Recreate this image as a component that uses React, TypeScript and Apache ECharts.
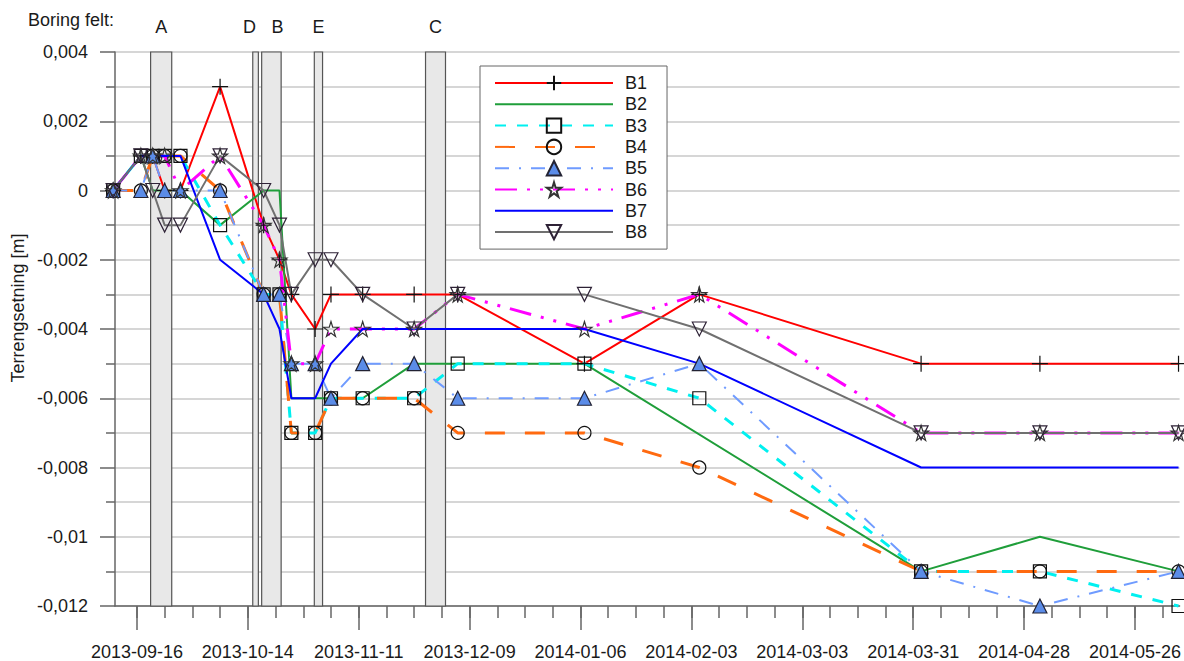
import React, { useEffect, useRef } from "react";
import * as echarts from "echarts";

const DAY = 86400000;
const utc = (s: string): number => {
  const [d, t] = s.split("T");
  const [y, m, dd] = d.split("-").map(Number);
  let h = 0;
  let mi = 0;
  if (t) {
    const p = t.split(":").map(Number);
    h = p[0];
    mi = p[1] || 0;
  }
  return Date.UTC(y, m - 1, dd, h, mi);
};

// measurement dates
const dates = [
  "2013-09-10", "2013-09-17", "2013-09-20", "2013-09-23", "2013-09-27",
  "2013-10-07", "2013-10-18", "2013-10-22", "2013-10-25", "2013-10-31",
  "2013-11-04", "2013-11-12", "2013-11-25", "2013-12-06", "2014-01-07",
  "2014-02-05", "2014-04-02", "2014-05-02", "2014-06-06",
];

// settlement values [m]
const B1 = [0, 0.001, 0.001, 0, 0, 0.003, -0.001, -0.002, -0.003, -0.004, -0.003, -0.003, -0.003, -0.003, -0.005, -0.003, -0.005, -0.005, -0.005];
const B2 = [0, 0.001, 0, 0, 0, -0.001, 0, 0, -0.006, -0.006, -0.006, -0.006, -0.005, -0.005, -0.005, null, -0.011, -0.010, -0.011];
const B3 = [0, 0.001, 0.001, 0.001, 0.001, -0.001, -0.003, -0.003, -0.007, -0.007, -0.006, -0.006, -0.006, -0.005, -0.005, -0.006, -0.011, -0.011, -0.012];
const B4 = [0, 0, 0.001, 0.001, 0.001, 0, -0.003, -0.003, -0.007, -0.007, -0.006, -0.006, -0.006, -0.007, -0.007, -0.008, -0.011, -0.011, -0.011];
const B5 = [0, 0, 0.001, 0, 0, 0, -0.003, -0.003, -0.005, -0.005, -0.006, -0.005, -0.005, -0.006, -0.006, -0.005, -0.011, -0.012, -0.011];
const B6 = [0, 0.001, 0.001, 0.001, 0, 0.001, -0.001, -0.002, -0.005, -0.005, -0.004, -0.004, -0.004, -0.003, -0.004, -0.003, -0.007, -0.007, -0.007];
const B7 = [0, 0.001, 0.001, 0.001, 0.001, -0.002, -0.003, -0.004, -0.006, -0.006, -0.005, -0.004, -0.004, -0.004, -0.004, -0.005, -0.008, -0.008, -0.008];
const B8 = [0, 0.001, 0, -0.001, -0.001, 0.001, 0, -0.001, -0.003, -0.002, -0.002, -0.003, -0.004, -0.003, -0.003, -0.004, -0.007, -0.007, -0.007];

const seriesNames = ["B1", "B2", "B3", "B4", "B5", "B6", "B7", "B8"];
const seriesValues = [B1, B2, B3, B4, B5, B6, B7, B8];

// drilling periods ("Boring felt")
const bandNames = ["A", "D", "B", "E", "C"];
const bandStarts = ["2013-09-19T11:00", "2013-10-15T06:00", "2013-10-17T12:00", "2013-10-30T19:00", "2013-11-27T21:00"];
const bandEnds = ["2013-09-24T19:00", "2013-10-16T16:00", "2013-10-22T10:00", "2013-11-01T21:00", "2013-12-02T22:00"];
const bandLabelShift = [0, -6, 6, 0, 0];

// x tick labels (every 4 weeks)
const tickLabels = [
  "2013-09-16", "2013-10-14", "2013-11-11", "2013-12-09", "2014-01-06",
  "2014-02-03", "2014-03-03", "2014-03-31", "2014-04-28", "2014-05-26",
];

const FONT = "'Liberation Sans', Arial, sans-serif";
const TXT = "#1a1a1a";
const FS = 18;

const STAR = "path://M50,0 L61,35 L98,35 L68,57 L79,91 L50,70 L21,91 L32,57 L2,35 L39,35 Z";
const CROSS = "path://M10,0 L10,20 M0,10 L20,10";
const DOWN = "path://M0,0 L20,0 L10,17 Z";

const styles: any[] = [
  { color: "#ff0000", width: 2, type: "solid", symbol: CROSS, size: 16, fill: "rgba(0,0,0,0)", border: "#111" },
  { color: "#1f9e3a", width: 2, type: "solid", symbol: "none", size: 0, fill: "none", border: "none" },
  { color: "#00f0f0", width: 3, type: [11, 11], symbol: "rect", size: 13, fill: "rgba(0,0,0,0)", border: "#111" },
  { color: "#ff6a10", width: 3, type: [20, 20], symbol: "circle", size: 13, fill: "rgba(0,0,0,0)", border: "#111" },
  { color: "#6f9bff", width: 2, type: [14, 10, 2, 10], symbol: "triangle", size: 14, fill: "#5b8ce8", border: "#223" },
  { color: "#ff00ff", width: 3, type: [22, 10, 3, 10, 3, 10], symbol: STAR, size: 15, fill: "rgba(0,0,0,0)", border: "#333" },
  { color: "#0000ff", width: 2, type: "solid", symbol: "none", size: 0, fill: "none", border: "none" },
  { color: "#707070", width: 2, type: "solid", symbol: DOWN, size: 14, fill: "rgba(0,0,0,0)", border: "#2e2236" },
];

const X0 = utc("2013-09-16");
const PXDAY = 3.977;
const XMIN = X0 - (22 / PXDAY) * DAY;
const XMAX = X0 + ((1184 - 137) / PXDAY) * DAY;

const fmtDate = (v: number) => {
  const d = new Date(Math.round(v));
  const p = (n: number) => (n < 10 ? "0" + n : "" + n);
  return `${d.getUTCFullYear()}-${p(d.getUTCMonth() + 1)}-${p(d.getUTCDate())}`;
};

export default function App() {
  const ref = useRef<HTMLDivElement>(null);
  useEffect(() => {
    if (!ref.current) return;
    const chart = echarts.init(ref.current, undefined, { renderer: "svg" });

    const majorTicks = tickLabels.map(utc);
    const weekTicks: number[] = [];
    for (let t = majorTicks[0]; t <= XMAX; t += 7 * DAY) weekTicks.push(t);

    const axisLineStyle = { color: "#666", width: 1.5 };
    const gridLine = { color: "#c8c8c8", width: 1.5 };

    const lineSeries = seriesNames.map((name, i) => {
      const s = styles[i];
      return {
        name,
        type: "line",
        z: 3,
        clip: false,
        connectNulls: true,
        showSymbol: s.symbol !== "none",
        symbol: s.symbol,
        symbolSize: s.size,
        data: dates.map((d, k) => [utc(d), seriesValues[i][k]]),
        lineStyle: { color: s.color, width: s.width, type: s.type },
        itemStyle: { color: s.fill, borderColor: s.border, borderWidth: 1.2 },
        emphasis: { disabled: true },
      };
    });

    const bandSeries = {
      name: "bands",
      type: "line",
      z: 1,
      data: [],
      markArea: {
        silent: true,
        itemStyle: { color: "#e8e8e8", borderColor: "#555", borderWidth: 1.2 },
        label: {
          show: true,
          position: "top",
          distance: 15,
          fontSize: FS,
          fontFamily: FONT,
          color: TXT,
        },
        data: bandNames.map((n, i) => [
          { name: n, xAxis: utc(bandStarts[i]), label: { offset: [bandLabelShift[i], 0] } },
          { xAxis: utc(bandEnds[i]) },
        ]),
      },
    };

    chart.setOption({
      animation: false,
      backgroundColor: "#ffffff",
      textStyle: { fontFamily: FONT },
      grid: { left: 115, right: 0, top: 52, bottom: 54 },
      xAxis: [
        {
          type: "value",
          min: XMIN,
          max: XMAX,
          axisLine: { show: true, onZero: false, lineStyle: axisLineStyle },
          axisTick: { show: true, customValues: weekTicks, length: 12, lineStyle: axisLineStyle },
          axisLabel: { show: false },
          splitLine: { show: false },
        },
        {
          type: "value",
          min: XMIN,
          max: XMAX,
          position: "bottom",
          axisLine: { show: false, onZero: false },
          axisTick: { show: true, customValues: majorTicks, length: 24, lineStyle: axisLineStyle },
          axisLabel: {
            show: true,
            customValues: majorTicks,
            formatter: (v: number) => fmtDate(v),
            margin: 37,
            fontSize: FS,
            fontFamily: FONT,
            color: TXT,
          },
          splitLine: { show: false },
        },
      ],
      yAxis: {
        type: "value",
        min: -0.012,
        max: 0.004,
        interval: 0.002,
        axisLine: { show: true, onZero: false, lineStyle: axisLineStyle },
        axisTick: { show: true, length: 15, lineStyle: axisLineStyle },
        minorTick: { show: true, splitNumber: 2, length: 9, lineStyle: axisLineStyle },
        splitLine: { show: true, lineStyle: gridLine },
        minorSplitLine: { show: true, lineStyle: gridLine },
        axisLabel: {
          formatter: (v: number) => String(+v.toFixed(3)).replace(".", ","),
          margin: 27,
          fontSize: FS,
          fontFamily: FONT,
          color: TXT,
        },
      },
      legend: {
        data: seriesNames,
        orient: "vertical",
        left: 480,
        top: 66,
        padding: [8, 20, 8, 14],
        itemWidth: 118,
        itemHeight: 18,
        itemGap: 3.3,
        borderColor: "#666",
        borderWidth: 1,
        backgroundColor: "#fff",
        selectedMode: false,
        textStyle: { fontSize: FS, lineHeight: 18, fontFamily: FONT, color: TXT, padding: [0, 0, 0, 7] },
      },
      graphic: [
        {
          type: "text",
          x: 28,
          y: 20,
          style: { text: "Boring felt:", fontSize: FS, fontFamily: FONT, fill: TXT, verticalAlign: "middle" },
        },
        {
          type: "text",
          x: 18,
          y: 308,
          rotation: Math.PI / 2,
          style: {
            text: "Terrengsetning [m]",
            fontSize: 18,
            fontFamily: FONT,
            fill: TXT,
            align: "center",
            verticalAlign: "middle",
          },
        },
      ],
      series: [bandSeries, ...lineSeries],
    });

    return () => chart.dispose();
  }, []);

  return (
    <div
      ref={ref}
      style={{ position: "fixed", left: 0, top: 0, width: 1184, height: 661, background: "#fff" }}
    />
  );
}
